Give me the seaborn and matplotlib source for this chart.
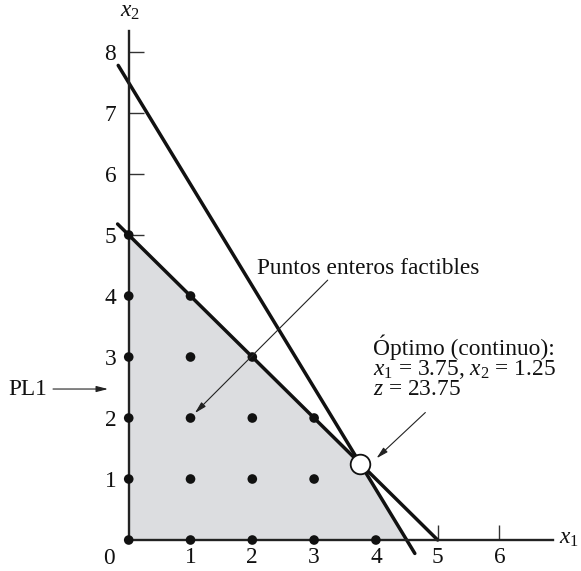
import matplotlib
matplotlib.use("Agg")
import matplotlib.pyplot as plt
import seaborn as sns
import pandas as pd

# ---- data ----
# constraint line x1 + x2 = 5 (end points as drawn)
line1_x = [-0.18, 5.0]
line1_y = [5.18, 0.0]
# constraint line 10 x1 + 6 x2 = 45 (end points as drawn)
line2_x = [-0.17, 4.63]
line2_y = [7.78, -0.22]
# feasible region (PL1)
region_x = [0.0, 0.0, 3.75, 4.5]
region_y = [0.0, 5.0, 1.25, 0.0]
# feasible integer points
int_x = [0, 0, 0, 0, 0, 0, 1, 1, 1, 1, 1, 2, 2, 2, 2, 3, 3, 3, 4]
int_y = [0, 1, 2, 3, 4, 5, 0, 1, 2, 3, 4, 0, 1, 2, 3, 0, 1, 2, 0]
# continuous optimum
opt_x = [3.75]
opt_y = [1.25]
x_ticks = [1, 2, 3, 4, 5, 6]
y_ticks = [1, 2, 3, 4, 5, 6, 7, 8]

sns.set_style("white")
plt.rcParams["font.family"] = ["Liberation Serif", "DejaVu Serif"]
plt.rcParams["mathtext.fontset"] = "custom"
plt.rcParams["mathtext.rm"] = "Liberation Serif"
plt.rcParams["mathtext.it"] = "Liberation Serif:italic"
plt.rcParams["mathtext.bf"] = "Liberation Serif:bold"

FS = 16.8
TC = "#111111"
fig = plt.figure(figsize=(5.81, 5.71), dpi=100)
ax = fig.add_axes([0, 0, 1, 1])
ax.set_facecolor("white")

ax.fill(region_x, region_y, color="#dcdde0", zorder=1, lw=0)

df1 = pd.DataFrame({"x": line1_x, "y": line1_y})
df2 = pd.DataFrame({"x": line2_x, "y": line2_y})
sns.lineplot(data=df1, x="x", y="y", ax=ax, color="#111111", lw=2.5,
             sort=False, estimator=None, zorder=3)
sns.lineplot(data=df2, x="x", y="y", ax=ax, color="#111111", lw=2.5,
             sort=False, estimator=None, zorder=3)

dfp = pd.DataFrame({"x": int_x, "y": int_y})
sns.scatterplot(data=dfp, x="x", y="y", ax=ax, color="#111111", s=48,
                edgecolor="none", zorder=5)
dfo = pd.DataFrame({"x": opt_x, "y": opt_y})
sns.scatterplot(data=dfo, x="x", y="y", ax=ax, color="white", s=200,
                edgecolor="#111111", linewidth=1.3, zorder=6)

ax.set_xlim(-2.083, 7.319)
ax.set_ylim(-0.508, 8.852)
ax.set_xlabel("")
ax.set_ylabel("")

for s in ["top", "right"]:
    ax.spines[s].set_visible(False)
for s in ["left", "bottom"]:
    ax.spines[s].set_position(("data", 0))
    ax.spines[s].set_color("#222222")
    ax.spines[s].set_linewidth(1.7)
    ax.spines[s].set_zorder(4)
ax.spines["left"].set_bounds(0, 8.35)
ax.spines["bottom"].set_bounds(0, 6.86)

ax.set_xticks(x_ticks)
ax.set_yticks(y_ticks)
ax.set_xticklabels([str(t) for t in x_ticks])
ax.set_yticklabels([str(t) for t in y_ticks])
ax.tick_params(axis="both", direction="in", length=11, width=1.0,
               colors="#333333", labelsize=FS, labelcolor=TC)
ax.tick_params(axis="x", pad=5)
ax.tick_params(axis="y", pad=9)
ax.tick_params(top=False, right=False, bottom=True, left=True)

ax.text(-0.317, -0.31, "0", fontsize=FS, ha="center", va="center", color=TC)
ax.text(0.02, 8.66, r"$x_2$", fontsize=FS, ha="center", va="center", color=TC)
ax.text(6.96, 0.03, r"$x_1$", fontsize=FS, ha="left", va="center", color=TC)

arrow = dict(arrowstyle="-|>,head_length=0.7,head_width=0.18", color="#222222",
             lw=0.8, shrinkA=0, shrinkB=0)

ax.text(2.08, 4.36, "Puntos enteros factibles", fontsize=FS, ha="left",
        va="baseline", color=TC)
ax.annotate("", xy=(1.07, 2.08), xytext=(3.22, 4.26), arrowprops=arrow, zorder=7)

ax.text(3.955, 3.033, "Óptimo (continuo):", fontsize=FS, ha="left",
        va="baseline", color=TC)
ax.text(3.955, 2.705, r"$x_1$ = 3.75, $x_2$ = 1.25", fontsize=FS, ha="left",
        va="baseline", color=TC)
ax.text(3.955, 2.377, r"$z$ = 23.75", fontsize=FS, ha="left",
        va="baseline", color=TC)
ax.annotate("", xy=(4.01, 1.34), xytext=(4.80, 2.09), arrowprops=arrow, zorder=7)

ax.text(-1.953, 2.377, "PL1", fontsize=FS, ha="left", va="baseline", color=TC)
ax.annotate("", xy=(-0.335, 2.475), xytext=(-1.225, 2.475), arrowprops=arrow)

fig.savefig("out.png", dpi=100)
